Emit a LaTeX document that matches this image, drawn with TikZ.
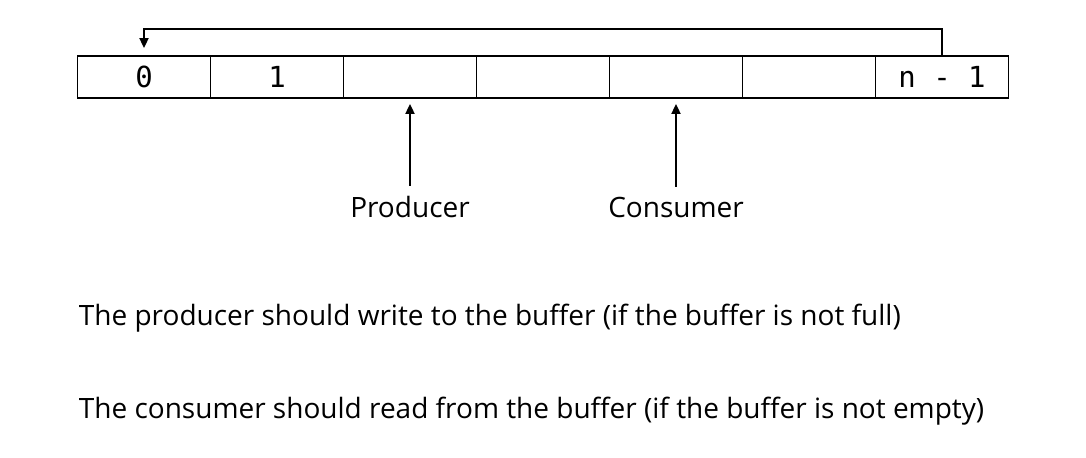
\documentclass[tikz,border=0pt]{standalone}
\usepackage{fontspec}
\setmainfont{Open Sans}
\setmonofont{DejaVu Sans Mono}
\usetikzlibrary{positioning, arrows.meta}

\begin{document}
\begin{tikzpicture}[x=0.5pt, y=-0.5pt, line width=0.9pt, >={Triangle[length=5pt, width=4.5pt]},
  cell/.style={draw, minimum width=66.5pt, minimum height=21pt, inner sep=0pt, font=\ttfamily\fontsize{14.5}{16}\selectfont},
  lbl/.style={inner sep=0pt, font=\fontsize{14}{17}\selectfont},
  note/.style={inner sep=0pt, anchor=base west, font=\fontsize{14}{17}\selectfont}]
  \useasboundingbox (0,0) rectangle (1086,458);
  % the buffer
  \foreach \i/\t in {0/0, 1/1, 2/, 3/, 4/, 5/, 6/n - 1}
    \node[cell] (c\i) at ({144+133*\i},77) {\t};
  % wrap around
  \draw[->, shorten >=3.5pt] (c6.north) -- ++(0,-26) -| (c0.north);
  % producer and consumer
  \node[lbl, anchor=base] (prod) at (410,218) {Producer};
  \node[lbl, anchor=base] (cons) at (676,218) {Consumer};
  \draw[->, shorten <=5pt, shorten >=2.5pt] (prod.north) -- (c2.south);
  \draw[->, shorten <=5pt, shorten >=2.5pt] (cons.north) -- (c4.south);
  % notes
  \node[note] (n1) at (78,326) {The producer should write to the buffer (if the buffer is not full)};
  \node[note] (n2) at (78,419) {The consumer should read from the buffer (if the buffer is not empty)};
\end{tikzpicture}
\end{document}
